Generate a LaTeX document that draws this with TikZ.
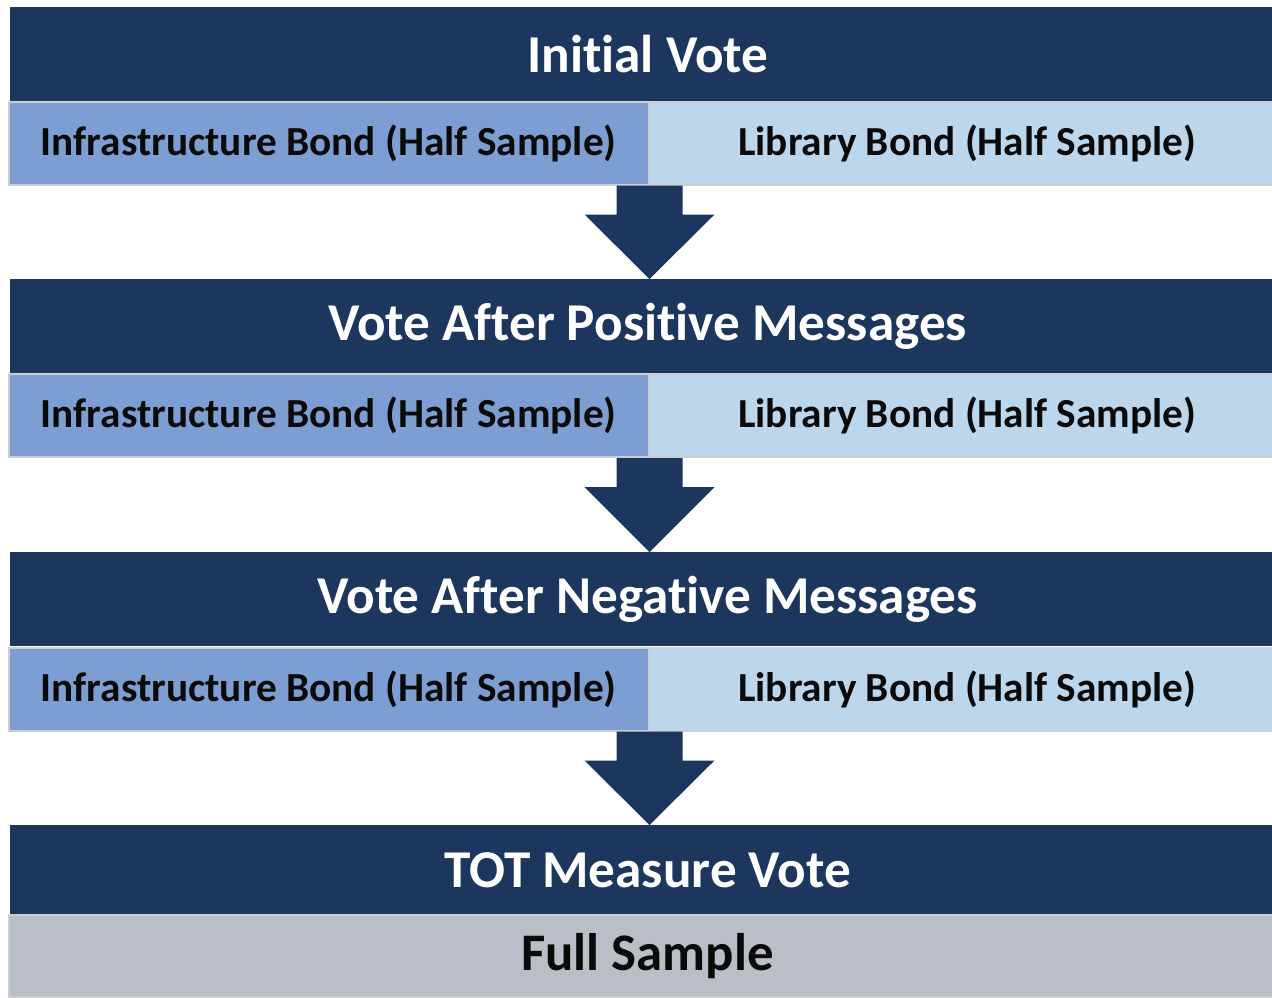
\documentclass[tikz,border=0pt]{standalone}
\usepackage{fontspec}
\setmainfont{Carlito}[Ligatures={NoCommon,NoRare,NoContextual}]
\usetikzlibrary{calc}
\definecolor{hdr}{RGB}{28,54,94}
\definecolor{lft}{RGB}{124,158,210}
\definecolor{rgt}{RGB}{188,214,235}
\definecolor{gry}{RGB}{185,190,199}
\definecolor{edgec}{RGB}{205,206,210}
\definecolor{ink}{RGB}{10,10,10}
\newcommand\blockarrow[2]{%
  \fill[hdr] ($(#1)+(-33,0)$) -- ($(#1)+(33,0)$) -- ($(#1)+(33,29)$) -- ($(#1)+(65,29)$)
    -- (#2) -- ($(#1)+(-65,29)$) -- ($(#1)+(-33,29)$) -- cycle;}
\begin{document}
\begin{tikzpicture}[x=0.5pt,y=-0.5pt,
  hdrbox/.style={fill=hdr, draw=none, text=white, inner sep=0pt, anchor=north west,
    minimum width=637.75pt, font=\bfseries\fontsize{26.6}{32}\selectfont},
  subbox/.style={draw=edgec, line width=1pt, inner sep=0pt, anchor=north west,
    minimum height=41.5pt, text=ink, font=\bfseries\fontsize{20.65}{25}\selectfont},
  leftbox/.style={subbox, fill=lft, minimum width=319.75pt},
  rightbox/.style={subbox, fill=rgt, minimum width=318.75pt},
  fullbox/.style={subbox, fill=gry, minimum width=638.5pt, font=\bfseries\fontsize{26.4}{32}\selectfont}
]
\useasboundingbox (0,0) rectangle (1272,997);
\clip (0,0) rectangle (1272,997);
\fill[white] (0,0) rectangle (1272,997);

% block 1
\node[hdrbox, minimum height=46.75pt] (h1) at (9.5,7) {Initial Vote};
\node[leftbox] (l1) at (8,100.5) {Infrastructure Bond (Half Sample)};
\node[rightbox] (r1) at (647.5,100.5) {Library Bond (Half Sample)};
% block 2
\node[hdrbox, minimum height=46.75pt] (h2) at (9.5,279) {Vote After Positive Messages};
\node[leftbox] (l2) at (8,373) {Infrastructure Bond (Half Sample)};
\node[rightbox] (r2) at (647.5,373) {Library Bond (Half Sample)};
% block 3
\node[hdrbox, minimum height=47pt] (h3) at (9.5,552) {Vote After Negative Messages};
\node[leftbox] (l3) at (8,646.5) {Infrastructure Bond (Half Sample)};
\node[rightbox] (r3) at (647.5,646.5) {Library Bond (Half Sample)};
% block 4
\node[hdrbox, minimum height=44.75pt] (h4) at (9.5,825) {TOT Measure Vote};
\node[fullbox, minimum height=41pt] (f4) at (8,914) {Full Sample};

% arrows
\blockarrow{l1.south east}{l1.south east |- h2.north}
\blockarrow{l2.south east}{l2.south east |- h3.north}
\blockarrow{l3.south east}{l3.south east |- h4.north}
\end{tikzpicture}
\end{document}
